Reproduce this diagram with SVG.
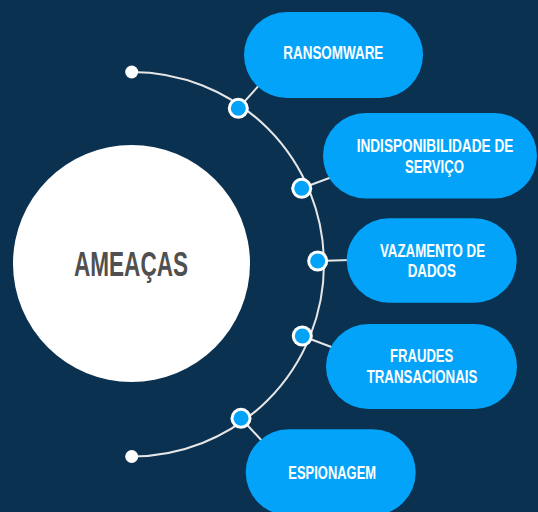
<svg xmlns="http://www.w3.org/2000/svg" width="538" height="512" viewBox="0 0 538 512">
<style>
.pill{fill:#03a3fa}
.lbl{font-family:"Liberation Sans",Arial,sans-serif;font-weight:bold;font-size:19px;fill:#ffffff;text-anchor:middle}
.con{stroke:#e6e6e6;stroke-width:2;fill:none}
.dot-o{fill:#ffffff}
.dot-i{fill:#03a3fa}
</style>
<rect x="0" y="0" width="538" height="512" fill="#0b3150"/>
<g id="connectors">
<path class="con" d="M131.7,72 A192,192 0 0 1 131.7,456.5"/>
<line class="con" x1="238.3" y1="108.3" x2="262" y2="82"/>
<line class="con" x1="301.7" y1="188.3" x2="332" y2="177"/>
<line class="con" x1="317.7" y1="261" x2="350" y2="260"/>
<line class="con" x1="302.3" y1="336" x2="334" y2="348"/>
<line class="con" x1="241" y1="418.3" x2="264" y2="443"/>
</g>
<g id="center">
<circle cx="131.5" cy="263.5" r="118.5" fill="#ffffff"/>
<text x="131" y="276" font-family="Liberation Sans,Arial,sans-serif" font-weight="bold" font-size="35" fill="#505050" text-anchor="middle" textLength="114" lengthAdjust="spacingAndGlyphs">AMEAÇAS</text>
</g>
<g id="end-top"><circle cx="131.7" cy="72" r="6.5" fill="#ffffff"/></g>
<g id="end-bottom"><circle cx="131.7" cy="456.5" r="6.5" fill="#ffffff"/></g>
<g id="ransomware">
<rect class="pill" x="244" y="12" width="179" height="86" rx="43"/>
<text class="lbl" x="333.3" y="59" textLength="100" lengthAdjust="spacingAndGlyphs">RANSOMWARE</text>
<circle class="dot-o" cx="238.3" cy="108.3" r="10.5"/><circle class="dot-i" cx="238.3" cy="108.3" r="7.5"/>
</g>
<g id="indisponibilidade">
<rect class="pill" x="323" y="113" width="214" height="85.5" rx="42.7"/>
<text class="lbl" x="435" y="151.5" textLength="156.7" lengthAdjust="spacingAndGlyphs">INDISPONIBILIDADE DE</text>
<text class="lbl" x="434.5" y="172.5" textLength="59" lengthAdjust="spacingAndGlyphs">SERVIÇO</text>
<circle class="dot-o" cx="301.7" cy="188.3" r="10.5"/><circle class="dot-i" cx="301.7" cy="188.3" r="7.5"/>
</g>
<g id="vazamento">
<rect class="pill" x="346.7" y="218.3" width="170" height="84.4" rx="42.2"/>
<text class="lbl" x="432.5" y="256.5" textLength="105" lengthAdjust="spacingAndGlyphs">VAZAMENTO DE</text>
<text class="lbl" x="431.8" y="277.3" textLength="48.3" lengthAdjust="spacingAndGlyphs">DADOS</text>
<circle class="dot-o" cx="317.7" cy="261" r="10.5"/><circle class="dot-i" cx="317.7" cy="261" r="7.5"/>
</g>
<g id="fraudes">
<rect class="pill" x="326" y="324" width="191" height="85" rx="42.5"/>
<text class="lbl" x="421.7" y="361.7" textLength="63.3" lengthAdjust="spacingAndGlyphs">FRAUDES</text>
<text class="lbl" x="422" y="382.7" textLength="110.7" lengthAdjust="spacingAndGlyphs">TRANSACIONAIS</text>
<circle class="dot-o" cx="302.3" cy="336" r="10.5"/><circle class="dot-i" cx="302.3" cy="336" r="7.5"/>
</g>
<g id="espionagem">
<rect class="pill" x="245.7" y="429.3" width="170" height="86" rx="43"/>
<text class="lbl" x="332.2" y="479.3" textLength="87.7" lengthAdjust="spacingAndGlyphs">ESPIONAGEM</text>
<circle class="dot-o" cx="241" cy="418.3" r="10.5"/><circle class="dot-i" cx="241" cy="418.3" r="7.5"/>
</g>
</svg>
